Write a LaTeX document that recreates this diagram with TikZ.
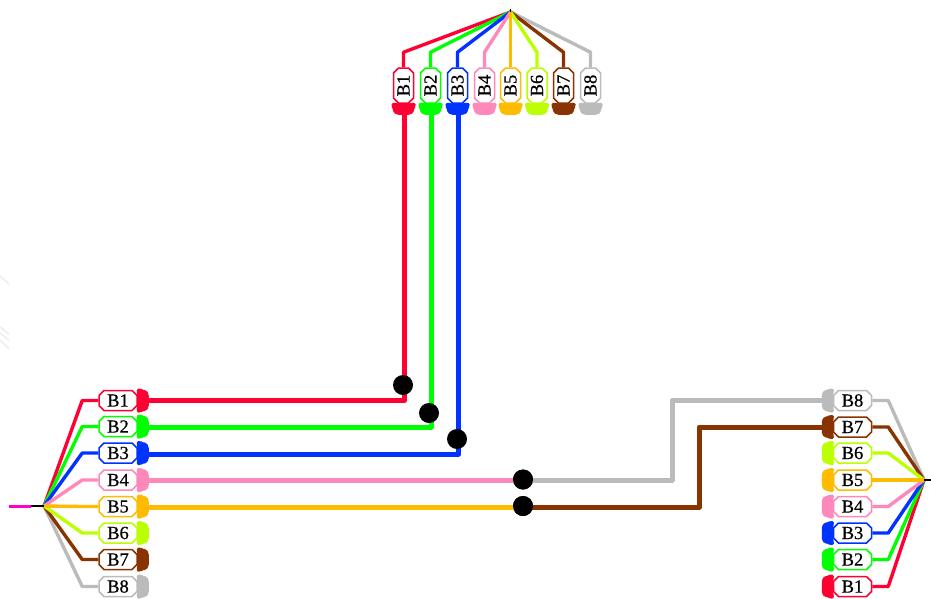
\documentclass[tikz,border=0pt]{standalone}
\usepackage{fontspec}
\setmainfont{Liberation Serif}
\newfontfamily\plugfont[FakeBold=0.6]{Liberation Serif}
\usetikzlibrary{shapes.misc}
\definecolor{c1}{HTML}{FF0033}
\definecolor{c2}{HTML}{00FF00}
\definecolor{c3}{HTML}{0033FF}
\definecolor{c4}{HTML}{FF88BB}
\definecolor{c5}{HTML}{FFBB00}
\definecolor{c6}{HTML}{BBFF00}
\definecolor{c7}{HTML}{883300}
\definecolor{c8}{HTML}{BBBBBB}
\definecolor{mag}{HTML}{FF00CC}
\tikzset{
  plugbox/.style={chamfered rectangle,chamfered rectangle xsep=2.5pt,chamfered rectangle ysep=2.5pt,
    draw=#1,fill=white,line width=1.5pt,minimum width=38pt,minimum height=20pt,inner sep=0pt,
    font=\plugfont\fontsize{18.5}{18.5}\selectfont,text=black},
  thinwire/.style={draw=#1,line width=3.4pt,line join=round},
  thickwire/.style={draw=#1,line width=5pt,line join=round},
  capfill/.style={fill=#1,rounded corners=1.5pt},
  dotnode/.style={circle,fill=black,minimum size=20pt,inner sep=0pt},
  stub/.style={draw=black,line width=1.2pt},
  smudge/.style={draw=black!7,line width=1.5pt},
}
\newcommand{\capoutline}{(-1,-12) -- (3,-12) -- (4,-10.8) -- (8.5,-10.3) -- (11,-6.5) -- (11,6.5) -- (8.5,10.3) -- (4,10.8) -- (3,12) -- (-1,12) -- (-1,8) -- (0,4) -- (0,-4) -- (-1,-8) -- cycle}
\begin{document}
\begin{tikzpicture}[x=1pt,y=-1pt]
\useasboundingbox (0,0) rectangle (931,598);
% faint marks at the left edge
\draw[smudge] (0,276) -- (9,284);
\draw[smudge] (0,327) -- (9,334);
\draw[smudge] (0,333) -- (9,340);
\draw[smudge] (0,340) -- (9,349);
% hubs and free ends
\coordinate (topHub) at (510.5,12);
\coordinate (topStub) at (510.5,9);
\coordinate (leftHub) at (44,506);
\coordinate (leftStub) at (31,506);
\coordinate (leftEnd) at (9,506);
\coordinate (rightHub) at (924,480);
\coordinate (rightStub) at (931,480);
% boxes
\foreach \i/\x in {1/403.5,2/430.5,3/457.5,4/484.5,5/510.5,6/537,7/563.5,8/590.5}
  \node[plugbox=c\i,rotate=90,minimum width=35pt] (T\i) at (\x,85.5) {B\i};
\foreach \i/\y in {1/400.5,2/426.5,3/453,4/480,5/506.5,6/533,7/559.5,8/586.5}
  \node[plugbox=c\i] (L\i) at (118,\y) {B\i};
\foreach \i/\y in {8/400.5,7/427,6/453,5/480,4/506.5,3/533,2/559.5,1/586.5}
  \node[plugbox=c\i] (R\i) at (852.5,\y) {B\i};
% thin wires
\foreach \i in {8,7,6,1,2,3,4,5} {
  \draw[thinwire=c\i] (T\i.east) -- ++(0,-15) -- (topHub);
  \draw[thinwire=c\i] (L\i.west) -- ++(-16,0) -- (leftHub);
  \draw[thinwire=c\i] (R\i.east) -- ++(16,0) -- (rightHub);
}
\draw[stub] (topHub) -- (topStub);
\draw[stub] (leftStub) -- (leftHub);
\draw[stub] (rightHub) -- (rightStub);
\draw[draw=mag,line width=3pt] (leftEnd) -- (leftStub);
% caps
\foreach \i in {1,...,8} {
  \begin{scope}[shift={(T\i.west)},rotate=-90]
    \path[capfill=c\i] \capoutline;
  \end{scope}
  \begin{scope}[shift={(L\i.east)}]
    \path[capfill=c\i] \capoutline;
  \end{scope}
  \begin{scope}[shift={(R\i.west)},rotate=180]
    \path[capfill=c\i] \capoutline;
  \end{scope}
}
% thick runs
\foreach \i/\xx/\yy in {1/404.5/400.5,2/431/427,3/458.5/454}{
  \coordinate (tEnd\i) at (\xx,113);
  \coordinate (lEnd\i) at (146,\yy);
  \draw[thickwire=c\i] (tEnd\i) |- (lEnd\i);
}
\coordinate (lEnd4) at (146,480);
\coordinate (lEnd5) at (146,507);
\coordinate (rEnd8) at (824,400.5);
\coordinate (rEnd7) at (824,427);
\coordinate (g1) at (672,480);
\coordinate (b1) at (699,507);
\node[dotnode] (J1) at (403,385) {};
\node[dotnode] (J2) at (429,413) {};
\node[dotnode] (J3) at (457,439) {};
\node[dotnode] (J4) at (523,479.5) {};
\node[dotnode] (J5) at (523,506) {};
\draw[thickwire=c4] (lEnd4) -- (lEnd4 -| J4);
\draw[thickwire=c5] (lEnd5) -- (lEnd5 -| J5);
\draw[thickwire=c8] (g1 -| J4) -- (g1) |- (rEnd8);
\draw[thickwire=c7] (b1 -| J5) -- (b1) |- (rEnd7);
\foreach \j in {J4,J5} \fill[black] (\j) circle (10);
\end{tikzpicture}
\end{document}
